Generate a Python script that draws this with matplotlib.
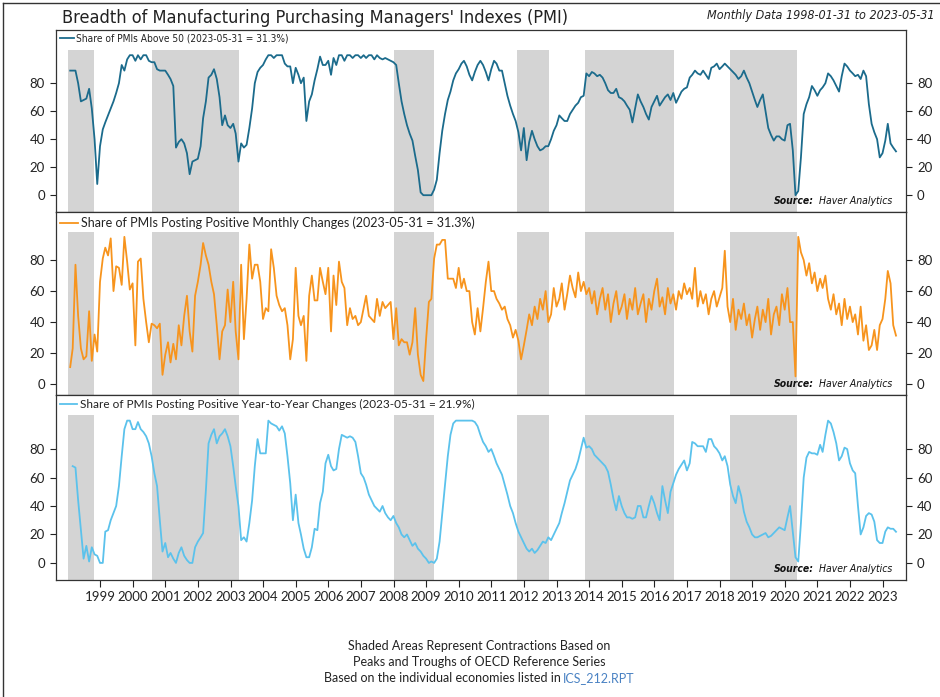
import matplotlib
matplotlib.use("Agg")
import matplotlib.pyplot as plt
import matplotlib.dates as mdates
import numpy as np
import pandas as pd

# ===== Data (monthly, 1998-01 .. 2023-05) =====
START_MONTH = "1998-01-01"

above_50 = [
    89, 89, 89, 80, 67, 68, 69, 76, 62, 40, 8, 35,
    47, 52, 57, 62, 67, 73, 80, 93, 89, 97, 100, 100,
    96, 100, 97, 100, 100, 96, 95, 95, 90, 89, 89, 89,
    86, 83, 78, 34, 38, 40, 37, 30, 15, 24, 25, 26,
    35, 55, 67, 84, 86, 90, 83, 70, 50, 57, 50, 48,
    51, 44, 24, 37, 34, 36, 48, 62, 80, 88, 91, 93,
    97, 100, 100, 98, 100, 100, 100, 94, 92, 92, 80, 91,
    86, 80, 84, 53, 67, 72, 82, 90, 99, 93, 93, 96,
    86, 98, 93, 100, 100, 96, 100, 100, 98, 100, 100, 98,
    100, 98, 100, 100, 97, 100, 98, 97, 98, 97, 96, 95,
    93, 80, 67, 58, 50, 44, 39, 28, 18, 2, 0, 0,
    0, 0, 4, 11, 30, 46, 58, 68, 74, 82, 87, 90,
    94, 96, 92, 86, 82, 88, 93, 96, 93, 88, 82, 90,
    96, 94, 89, 89, 80, 71, 64, 58, 53, 45, 32, 48,
    25, 38, 46, 40, 35, 32, 33, 35, 35, 40, 46, 50,
    57, 55, 53, 53, 58, 61, 64, 66, 70, 71, 87, 85,
    88, 87, 85, 86, 84, 80, 75, 73, 73, 76, 70, 69,
    67, 64, 61, 52, 62, 72, 67, 63, 58, 54, 63, 67,
    71, 64, 67, 70, 72, 68, 73, 66, 70, 74, 76, 77,
    84, 86, 89, 87, 86, 89, 86, 83, 91, 92, 94, 90,
    92, 94, 92, 90, 88, 86, 83, 85, 89, 84, 80, 74,
    68, 63, 68, 72, 60, 48, 43, 39, 42, 42, 40, 39,
    50, 51, 32, 0, 3, 27, 58, 65, 70, 78, 75, 71,
    75, 77, 80, 87, 85, 82, 78, 74, 85, 94, 92, 89,
    87, 85, 86, 83, 89, 85, 65, 51, 45, 40, 27, 30,
    39, 51, 37, 34, 31.3,
]

monthly_pos = [
    11, 23, 77, 44, 23, 16, 18, 47, 15, 32, 21, 66,
    81, 88, 83, 94, 60, 76, 75, 64, 95, 79, 61, 65,
    25, 79, 81, 55, 40, 27, 39, 38, 36, 39, 6, 19,
    27, 14, 26, 16, 38, 25, 44, 57, 34, 21, 57, 66,
    77, 91, 83, 77, 66, 58, 38, 16, 34, 38, 61, 40,
    66, 34, 16, 77, 29, 55, 90, 68, 77, 77, 66, 42,
    49, 47, 87, 75, 57, 51, 47, 49, 38, 16, 29, 75,
    44, 38, 44, 15, 57, 70, 54, 54, 75, 66, 58, 75,
    34, 70, 51, 79, 66, 62, 38, 49, 42, 44, 38, 40,
    49, 57, 44, 42, 40, 55, 44, 53, 49, 51, 53, 29,
    49, 25, 29, 27, 27, 19, 27, 49, 19, 6, 2, 29,
    53, 55, 81, 90, 90, 93, 93, 68, 68, 68, 62, 75,
    62, 68, 60, 60, 40, 32, 49, 34, 49, 66, 79, 60,
    60, 55, 52, 48, 50, 42, 38, 30, 35, 28, 16, 25,
    35, 45, 38, 50, 42, 55, 48, 60, 40, 45, 62, 50,
    55, 65, 48, 58, 70, 62, 56, 72, 60, 66, 58, 62,
    52, 60, 45, 55, 62, 48, 58, 40, 52, 60, 45, 50,
    58, 42, 55, 48, 62, 45, 52, 58, 40, 55, 48, 60,
    68, 50, 56, 45, 62, 52, 58, 48, 60, 55, 65, 58,
    62, 55, 75, 50, 60, 52, 58, 45, 55, 60, 50, 56,
    62, 86, 50, 40, 55, 35, 48, 42, 52, 38, 45, 30,
    42, 50, 35, 48, 40, 55, 32, 45, 50, 38, 58, 48,
    62, 40, 40, 5, 95, 85, 80, 70, 78, 65, 72, 60,
    68, 62, 70, 55, 48, 58, 45, 52, 38, 55, 42, 50,
    40, 45, 32, 50, 28, 38, 22, 25, 35, 22, 38, 42,
    55, 73, 65, 38, 31.3,
]

yoy_pos = [
    np.nan, 68, 67, 44, 23, 3, 12, 1, 11, 6, 5, 0,
    0, 22, 23, 30, 35, 40, 54, 75, 94, 100, 100, 94,
    94, 99, 94, 92, 89, 84, 75, 63, 54, 30, 8, 14,
    4, 7, 3, 0, 7, 11, 5, 2, 0, 0, 11, 15,
    18, 21, 51, 84, 90, 94, 84, 89, 91, 94, 89, 82,
    68, 54, 40, 16, 18, 15, 28, 44, 68, 87, 77, 77,
    77, 100, 98, 97, 96, 93, 96, 91, 75, 56, 30, 48,
    28, 20, 10, 4, 4, 11, 24, 23, 42, 50, 70, 76,
    68, 65, 66, 80, 90, 89, 88, 89, 88, 85, 75, 63,
    60, 55, 48, 44, 40, 38, 36, 40, 35, 32, 30, 33,
    28, 25, 20, 18, 20, 16, 12, 14, 10, 8, 5, 3,
    0, 1, 0, 3, 15, 35, 55, 75, 90, 98, 100, 100,
    100, 100, 100, 100, 100, 99, 96, 90, 85, 82, 78, 80,
    75, 70, 66, 62, 55, 48, 40, 35, 28, 22, 18, 14,
    10, 8, 10, 7, 9, 12, 15, 14, 18, 16, 20, 24,
    28, 35, 42, 50, 58, 62, 66, 72, 80, 88, 81, 82,
    80, 76, 74, 72, 70, 68, 64, 55, 45, 37, 47, 40,
    35, 32, 32, 31, 32, 40, 40, 32, 32, 40, 47, 42,
    35, 30, 54, 44, 35, 50, 56, 62, 66, 69, 72, 65,
    70, 85, 84, 82, 82, 82, 78, 87, 87, 82, 80, 77,
    72, 75, 68, 55, 47, 42, 54, 47, 36, 29, 25, 20,
    18, 18, 19, 20, 21, 18, 19, 21, 23, 25, 24, 23,
    32, 40, 22, 4, 1, 28, 60, 74, 78, 77, 77, 76,
    83, 78, 90, 100, 98, 92, 84, 72, 75, 81, 80, 70,
    65, 63, 40, 20, 25, 33, 35, 34, 29, 16, 14, 14,
    22, 25, 24, 24, 21.9,
]

# contraction periods (start, end)
shade_start = ["1998-01-01", "2000-08-01", "2002-06-01", "2008-01-01",
               "2011-10-15", "2013-11-15", "2018-05-01"]
shade_end = ["1998-10-25", "2002-06-01", "2003-04-05", "2009-04-01",
             "2012-10-10", "2016-08-10", "2020-05-20"]

labels = [
    "Share of PMIs Above 50 (2023-05-31 = 31.3%)",
    "Share of PMIs Posting Positive Monthly Changes (2023-05-31 = 31.3%)",
    "Share of PMIs Posting Positive Year-to-Year Changes (2023-05-31 = 21.9%)",
]
line_colors = ["#1b6b8c", "#f7941d", "#5bc2ec"]
series = [above_50, monthly_pos, yoy_pos]
ylims = [(-12, 118), (-7, 111), (-12, 118)]
years = list(range(1999, 2024))

dates = pd.date_range(START_MONTH, periods=len(above_50), freq="MS") + pd.offsets.MonthEnd(0)

LATO = ["Lato", "DejaVu Sans"]
plt.rcParams["font.family"] = LATO
NARROW = dict(family="DejaVu Sans", stretch="condensed")

W, H = 940, 697
fig = plt.figure(figsize=(W / 100, H / 100), dpi=100)

def fx(px):
    return px / W

def fy(py):
    return 1 - py / H

# outer frame (left and top edges visible)
fig.add_artist(plt.Line2D([fx(3), fx(3)], [0, fy(3)], color="#333333", lw=1))
fig.add_artist(plt.Line2D([fx(3), 1], [fy(3), fy(3)], color="#333333", lw=1))

left, right = 56, 906
tops = [30, 212, 395]
bottoms = [212, 395, 580]
xmin = pd.Timestamp("1997-08-25")
xmax = pd.Timestamp("2023-09-20")
leg_sizes = [7.3, 9, 8.5]

for i in range(3):
    ax = fig.add_axes([fx(left), fy(bottoms[i]), fx(right - left), (bottoms[i] - tops[i]) / H])
    ax.set_xlim(xmin, xmax)
    ax.set_ylim(*ylims[i])
    gap = 20 / (bottoms[i] - tops[i])
    for s, e in zip(shade_start, shade_end):
        ax.axvspan(pd.Timestamp(s), pd.Timestamp(e), ymin=0, ymax=1 - gap,
                   color="#d4d4d4", lw=0, zorder=0)
    ax.plot(dates, series[i], color=line_colors[i], lw=1.3, label=labels[i], zorder=2)

    ax.set_yticks([0, 20, 40, 60, 80])
    ax.tick_params(axis="y", which="both", left=True, right=True, labelleft=True,
                   labelright=True, direction="out", length=4, width=0.8,
                   labelsize=9.5, colors="#222222", pad=4)
    for sp in ax.spines.values():
        sp.set_color("#333333")
        sp.set_linewidth(0.9)

    if i == 0:
        leg_font = dict(NARROW, size=leg_sizes[i])
    else:
        leg_font = {"family": LATO, "size": leg_sizes[i]}
    leg = ax.legend(loc="upper left", bbox_to_anchor=(0.0, 1.0), frameon=False,
                    handlelength=1.4, handletextpad=0.25, borderaxespad=0.15,
                    borderpad=0.2, prop=leg_font)
    for t in leg.get_texts():
        t.set_color("#222222")

    ax.text(0.892, 0.035, "Source:", transform=ax.transAxes, ha="right", va="bottom",
            fontsize=7.5, style="italic", fontweight="bold", color="#111111", **NARROW)
    ax.text(0.984, 0.035, "Haver Analytics", transform=ax.transAxes, ha="right",
            va="bottom", fontsize=7.5, style="italic", color="#111111", **NARROW)

    if i < 2:
        ax.tick_params(axis="x", bottom=False, labelbottom=False)
    else:
        ax.set_xticks([pd.Timestamp(f"{y}-01-01") for y in years])
        ax.xaxis.set_major_formatter(mdates.DateFormatter("%Y"))
        ax.tick_params(axis="x", direction="out", length=5, width=0.8,
                       labelsize=9.5, colors="#222222", pad=3)

fig.text(fx(62), fy(18), "Breadth of Manufacturing Purchasing Managers' Indexes (PMI)",
         ha="left", va="center", fontsize=13, color="#222222", **NARROW)
fig.text(fx(707), fy(15), "Monthly Data 1998-01-31 to 2023-05-31", ha="left",
         va="center", fontsize=9, style="italic", color="#222222", **NARROW)

fig.text(fx(479), fy(646), "Shaded Areas Represent Contractions Based on",
         ha="center", va="center", fontsize=9, color="#222222")
fig.text(fx(479), fy(662), "Peaks and Troughs of OECD Reference Series",
         ha="center", va="center", fontsize=9, color="#222222")
fig.text(fx(561), fy(678), "Based on the individual economies listed in",
         ha="right", va="center", fontsize=9, color="#222222")
fig.text(fx(563), fy(678), "ICS_212.RPT", ha="left", va="center", fontsize=9,
         color="#4a82c3")

fig.savefig("out.png", dpi=100)
